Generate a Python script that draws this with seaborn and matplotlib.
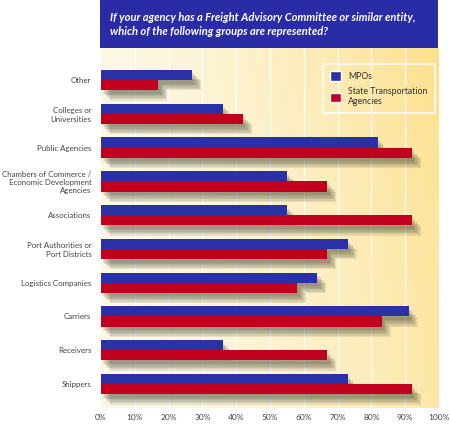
import numpy as np
import pandas as pd
import matplotlib
matplotlib.use('Agg')
import matplotlib.pyplot as plt
import matplotlib.patheffects as pe
from matplotlib.patches import Rectangle
import seaborn as sns

# Data
groups = ['Other', 'Colleges or\nUniversities', 'Public Agencies',
          'Chambers of Commerce /\nEconomic Development\nAgencies', 'Associations',
          'Port Authorities or\nPort Districts', 'Logistics Companies', 'Carriers',
          'Receivers', 'Shippers']
mpos = [27, 36, 82, 55, 55, 73, 64, 91, 36, 73]
state_agencies = [17, 42, 92, 67, 92, 67, 58, 83, 67, 92]
series_names = ['MPOs', 'State Transportation\nAgencies']
tick_labels = ['0%', '10%', '20%', '30%', '40%', '50%', '60%', '70%', '80%', '90%', '100%']

df = pd.DataFrame({
    'group': groups * 2,
    'pct': mpos + state_agencies,
    'agency': [series_names[0]] * len(groups) + [series_names[1]] * len(groups),
})

sns.set_style('white')
plt.rcParams['font.family'] = ['Lato', 'DejaVu Sans']

fig = plt.figure(figsize=(4.5, 4.24), dpi=100)
ax = fig.add_axes([101 / 450, 16 / 424, 338 / 450, 360 / 424])

# background gradient (cream -> yellow towards the right / top)
gx = np.linspace(0, 1, 200)
gy = np.linspace(0, 1, 200)
X, Y = np.meshgrid(gx, gy)
t = np.clip(0.7 * X ** 1.7 + 0.3 * X * Y ** 1.5, 0, 1)
c0 = np.array([252, 248, 228]) / 255
c1 = np.array([253, 224, 140]) / 255
img = c0 + (c1 - c0) * t[..., None]
ax.imshow(img, extent=[0, 1, 0, 1], transform=ax.transAxes, origin='lower',
          aspect='auto', zorder=0)

for v in range(10, 100, 10):
    ax.axvline(v, color='white', lw=0.9, alpha=0.85, zorder=1)

sns.barplot(data=df, y='group', x='pct', hue='agency', orient='h',
            palette=['#2a31a6', '#c1001f'], saturation=1, width=0.6,
            errorbar=None, ax=ax, zorder=3)

ax.set_xlim(0, 100)
ax.set_ylim(len(groups) - 1 + 0.71, -0.95)
ax.set_xticks(range(0, 101, 10))
ax.set_xticklabels(tick_labels, fontsize=6, color='#444444')
ax.tick_params(axis='y', labelsize=5.7, labelcolor='#444444', length=0, pad=7)
ax.tick_params(axis='x', length=0, pad=4)
for lab in ax.get_yticklabels():
    lab.set_linespacing(1.2)
ax.set_xlabel('')
ax.set_ylabel('')
for s in ax.spines.values():
    s.set_visible(False)

leg = ax.legend(loc='upper right', bbox_to_anchor=(1.0, 0.967), fontsize=6.3,
                frameon=True, handlelength=1.3, handleheight=1.3,
                borderpad=0.8, labelspacing=0.7, handletextpad=0.8)
leg.get_frame().set_facecolor('none')
leg.get_frame().set_edgecolor('white')
leg.get_frame().set_linewidth(1.3)
leg.get_frame().set_boxstyle('square', pad=0)
for t_ in leg.get_texts():
    t_.set_color('#333333')

# soft drop shadow under the bars (layered to fake a blur)
shadow = [pe.SimplePatchShadow(offset=(o, -o - 1), shadow_rgbFace='#404030', alpha=0.11)
          for o in (1.5, 2.5, 3.5, 4.5, 5.5, 6.5)] + [pe.Normal()]
for p in ax.patches:
    p.set_path_effects(shadow)
    p.set_edgecolor('none')

# title band
fig.patches.append(Rectangle((100 / 450, 376 / 424), 338 / 450, 48 / 424,
                             transform=fig.transFigure, facecolor='#2a2ca6',
                             edgecolor='none', zorder=5))
fig.text(110 / 450, 1 - 24.5 / 424,
         'If your agency has a Freight Advisory Committee or similar entity,\n'
         'which of the following groups are represented?',
         color='white', fontsize=8.0, fontweight='bold', fontstyle='italic',
         va='center', ha='left', linespacing=1.3, zorder=6)

fig.savefig('out.png', dpi=100)
